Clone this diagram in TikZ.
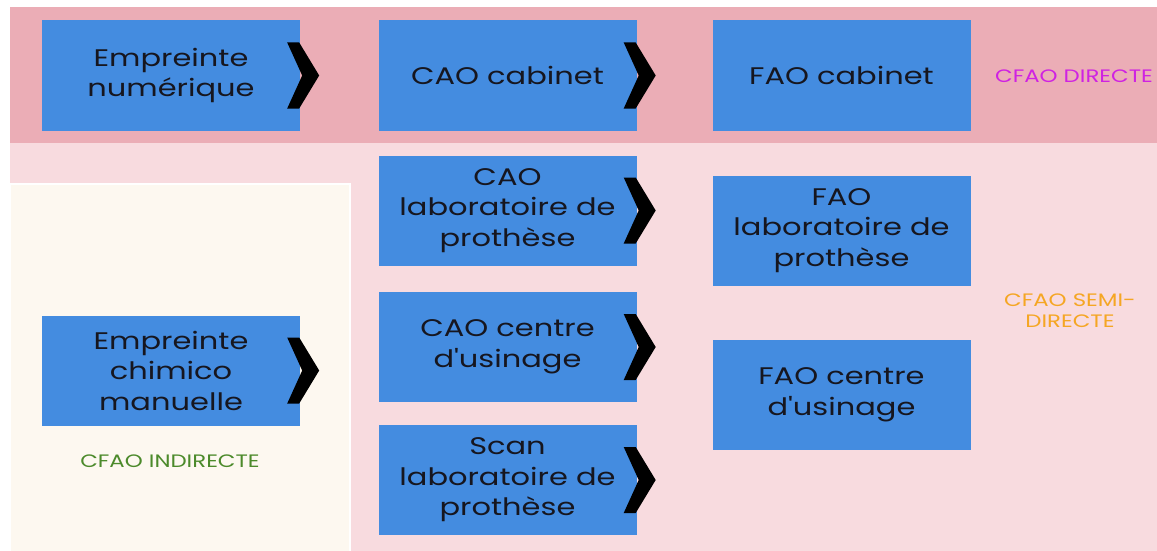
\documentclass[tikz,border=0pt]{standalone}
\usepackage{fontspec}
\setmainfont{Poppins}[FakeStretch=1.27, Ligatures=TeXOff]
\definecolor{bandtop}{HTML}{EBADB6}
\definecolor{bandlow}{HTML}{F8DBDF}
\definecolor{cream}{HTML}{FDF8F0}
\definecolor{boxblue}{HTML}{448CE0}
\definecolor{txt}{HTML}{16161F}
\definecolor{magentaT}{HTML}{CF22E2}
\definecolor{orangeT}{HTML}{F5A623}
\definecolor{greenT}{HTML}{4C8A2B}
\tikzset{
  stagebox/.style={fill=boxblue, draw=none, minimum width=258pt, minimum height=110pt,
    inner sep=0pt, align=center, text=txt, font=\fontsize{24}{30.5}\selectfont},
  tag/.style={align=center, inner sep=0pt, font=\fontsize{18}{21}\selectfont},
}
\newcommand\mychev[1]{%
  \fill[black] ([shift={(-13,-33)}]#1.east) -- ([shift={(-1,-33)}]#1.east)
    -- ([shift={(19,0)}]#1.east) -- ([shift={(-1,33)}]#1.east)
    -- ([shift={(-13,33)}]#1.east) -- ([shift={(2,0)}]#1.east) -- cycle;}
\begin{document}
\begin{tikzpicture}[x=1pt,y=-1pt]
\useasboundingbox (0,0) rectangle (1157,551);
\fill[white] (0,0) rectangle (1157,551);
% bands
\fill[bandtop] (10,7) rectangle (1157,143);
\fill[bandlow] (10,143) rectangle (1157,551);
\fill[cream, draw=white, line width=1.5pt] (10,184) rectangle (350,553);
% boxes
\node[stagebox] (en) at (171,75.5) {Empreinte\\numérique};
\node[stagebox] (cc) at (507.5,75.5) {CAO cabinet};
\node[stagebox] (fc) at (841.5,75.5) {FAO cabinet};
\node[stagebox] (cl) at (507.5,210.5) {CAO\\laboratoire de\\prothèse};
\node[stagebox] (cu) at (507.5,347) {CAO centre\\d'usinage};
\node[stagebox] (sl) at (507.5,480) {Scan\\laboratoire de\\prothèse};
\node[stagebox] (fl) at (841.5,230.5) {FAO\\laboratoire de\\prothèse};
\node[stagebox] (fu) at (841.5,395) {FAO centre\\d'usinage};
\node[stagebox] (ec) at (171,370.5) {Empreinte\\chimico\\manuelle};
% chevrons
\mychev{en}
\mychev{cc}
\mychev{cl}
\mychev{cu}
\mychev{sl}
\mychev{ec}
% tags
\node[tag, text=magentaT] (td) at (1074,76) {CFAO DIRECTE};
\node[tag, text=orangeT] (ts) at (1070,311) {CFAO SEMI-\\DIRECTE};
\node[tag, text=greenT] (ti) at (170,461) {CFAO INDIRECTE};
\end{tikzpicture}
\end{document}
